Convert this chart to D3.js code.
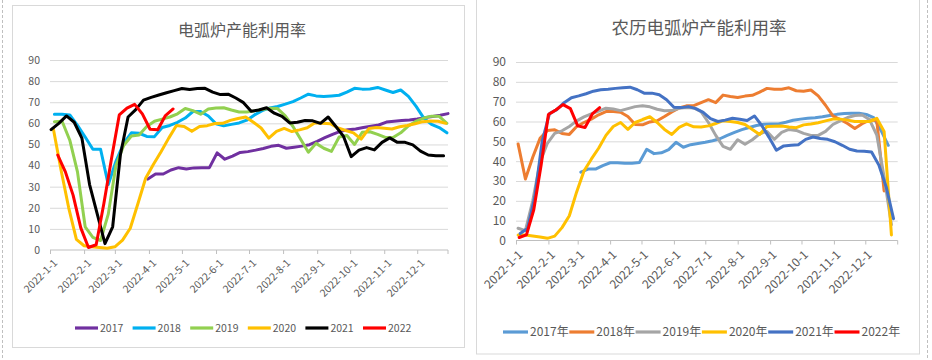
<!DOCTYPE html>
<html><head><meta charset="utf-8">
<script src="https://cdn.jsdelivr.net/npm/d3@7"></script>
<style>body{margin:0;background:#fff}svg{display:block}</style>
</head><body><svg id="c" width="932" height="360"></svg>
<script>
// ---------- data ----------
const yTicks = [0, 10, 20, 30, 40, 50, 60, 70, 80, 90];
const monthTicks = ["2022-1-1","2022-2-1","2022-3-1","2022-4-1","2022-5-1","2022-6-1","2022-7-1","2022-8-1","2022-9-1","2022-10-1","2022-11-1","2022-12-1"];

const leftTitle = "电弧炉产能利用率";
const rightTitle = "农历电弧炉产能利用率";
const leftNames = ["2017","2018","2019","2020","2021","2022"];
const rightNames = ["2017年","2018年","2019年","2020年","2021年","2022年"];
const leftColors = ["#7030A0","#00B0F0","#92D050","#FFC000","#000000","#FF0000"];
const rightColors = ["#5B9BD5","#ED7D31","#A5A5A5","#FFC000","#4472C4","#FF0000"];

// weekly series: first week date, then weekly values
const leftStarts = ["2022-3-31","2022-1-5","2022-1-5","2022-1-4","2022-1-2","2022-1-8"];
const left2017 = [33.6,36,36,37.9,39,38.4,38.9,39,39,46,43,44.5,46.2,46.6,47.3,48.1,49.1,49.6,48.2,48.7,49.2,49.9,51.5,53.2,54.8,56.2,57,57.3,58,58.6,59.2,60.6,61,61.3,61.6,62.1,62.7,63.2,63.8,64.6];
const left2018 = [64.3,64.3,64,59,53.5,47.7,47.7,31,42,50.5,55.5,55.3,53.8,53.7,58,59,60.5,62.5,65.6,65.6,63.5,59.8,58.8,59.5,60.2,61.5,64,66,67.3,68,69.1,70.3,72,73.8,73,72.7,73,73.3,74.8,76.6,76.2,76.3,77,75.8,74.6,75.8,72.8,68,62.5,59.5,58,55.5];
const left2019 = [60.8,61,52,37,11,6,4.5,17,40,49.5,54,54.5,58.5,61,62,63,64.5,67,66,64.3,66.8,67.3,67.4,66.3,65.4,65.4,65.9,66.6,67.1,67,63.5,58.5,52.5,46.3,50.5,48.2,46.7,53.5,54.2,50,55.8,56,54.8,53.3,53.3,55.5,58.8,61,62.5,63.4,63.3,60];
const left2020 = [57.6,38,20,5,2,1.5,1.2,0.8,1.5,4.7,10.3,22,34,40.5,46.5,53,59,58.5,56.2,58.5,58.9,59.9,60,61.4,62.3,63,60.5,57.8,53,56.2,57.6,56.1,56.9,57.9,60.3,60,59.8,57.8,56.6,55.5,52.5,57.5,58,57.7,57.3,58.4,59,59.8,60.8,61.1,61,60];
const left2021 = [57,60,63.5,60.5,53,31,17,3,11,45,63,66.5,71,72.3,73.4,74.5,75.5,76.5,76,76.5,76.6,74.8,73.6,73.8,72,69.8,65.7,66.3,67.4,64.8,63.3,60.2,60.5,61.3,61.2,60,63,58.5,53.8,44.2,47.3,48.5,47.4,51,53.1,51,51,49.8,46.8,45,44.7,44.7];
const left2022 = [45,37,26,10.5,1.2,2.5,22,43.5,64,67.2,69,64.5,57.2,57,63.7,66.8];

const rightStarts = ["2022-3-4","2022-1-3","2022-1-3","2022-1-3","2022-1-5","2022-1-4"];
const right2017 = [34.5,36,36,37.8,39.2,39.2,38.9,39,39.3,46,43.8,44.2,45.8,49.5,47,48.3,48.9,49.5,50.3,51.3,53,54.5,55.9,57,58,58.6,58.8,58.8,59.6,60.6,61.2,61.6,61.9,62.4,63,63.6,64,64.2,64.2,63.6,62,55.5,48];
const right2018 = [48.7,31,42,51.5,55.5,55.8,54,53.5,57.5,59.5,61.2,63.4,65,65,64.7,62.5,58.5,58.3,59.8,60.4,62.5,64.8,66.8,67.9,68,69.5,71,69.5,73.3,72.6,72.1,72.8,73.2,74.8,76.7,76.3,76.3,77,75.5,75.3,75.9,72.9,68.2,62.8,61,59,56.5,58.9,60.7,60.5,25];
const right2019 = [6.2,5,20,39.5,49,54,55.3,57.5,60.3,62.3,63.8,65.2,66.7,66.3,65.5,66.5,67.5,67.9,67.4,66.2,65.4,65.5,66.7,67,66.8,65,59.5,53,47.5,46,50.8,48.5,50.8,53.8,55,51,54.5,56,55.5,54,53,53,55,58.5,60.3,62,63,63.3,61,53.2,32,8];
const right2020 = [2.8,2.8,2.3,1.8,1.1,2.2,6.5,12.5,24.5,35,41,46.5,53,57.5,59.5,56,59.5,61,62.4,59.5,56,53.5,57,58.8,57.3,57.2,57.8,59,60.4,60,59.5,58.5,56,53.5,57.5,57.6,57.7,57.2,56.9,58.3,58.7,59.4,60.3,61.2,61.2,60.7,60,60,60,61.6,55,2.8];
const right2021 = [3.5,6,22,50,64,66,69.5,72,72.9,74,75.3,76,76.3,76.7,77,77.3,76,74.2,74.3,73.5,71,67.2,67,67.5,66.5,64.6,61.5,60,60.7,61.6,61.1,60.5,62.8,58,52,45.5,47.7,48,48.3,51,52.2,51.4,51,49.8,48,46,45.1,45,44.6,38,27,11];
const right2022 = [1.5,2.8,15.5,38,63.5,65.8,68.5,66.5,57.8,57,63.8,67];

const leftSeries = [left2017,left2018,left2019,left2020,left2021,left2022];
const rightSeries = [right2017,right2018,right2019,right2020,right2021,right2022];

// ---------- drawing ----------
const FONT = "'Noto Sans CJK SC','Noto Sans',sans-serif";
const TXT = "#595959";
const GRID = "#d9d9d9";
const svg = d3.select("#c");
svg.append("rect").attr("width",932).attr("height",360).attr("fill","#fff");

const parseD = s => { const [y,m,d] = s.split("-").map(Number); return new Date(y, m-1, d); };

// outer dashed frame marks
svg.append("line").attr("x1",2.5).attr("x2",2.5).attr("y1",0).attr("y2",360)
  .attr("stroke","#bfbfbf").attr("stroke-dasharray","3,2");
svg.append("line").attr("x1",927.5).attr("x2",927.5).attr("y1",0).attr("y2",360)
  .attr("stroke","#bfbfbf").attr("stroke-dasharray","3,2");

// panel frames
svg.append("rect").attr("x",12.5).attr("y",5.5).attr("width",452).attr("height",342)
  .attr("fill","#fff").attr("stroke",GRID);
svg.append("rect").attr("x",476.5).attr("y",-2).attr("width",443).attr("height",356)
  .attr("fill","#fff").attr("stroke",GRID);

function panel(cfg) {
  const g = svg.append("g");
  const x = d3.scaleTime().domain(cfg.xDomain).range(cfg.xRange);
  const y = d3.scaleLinear().domain([0,90]).range(cfg.yRange);

  // gridlines
  const grid = g.append("g").attr("transform",`translate(${cfg.xRange[0]},0)`)
    .call(d3.axisLeft(y).tickValues(yTicks.filter(v=>v>0)).tickSize(-(cfg.xRange[1]-cfg.xRange[0])).tickFormat(""));
  grid.select(".domain").remove();
  grid.selectAll("line").attr("stroke",GRID).attr("stroke-width",1);

  // y labels
  const ya = g.append("g").attr("transform",`translate(${cfg.xRange[0]},0)`)
    .call(d3.axisLeft(y).tickValues(yTicks).tickSize(0).tickPadding(cfg.yPad));
  ya.select(".domain").remove();
  ya.selectAll("text").attr("fill",TXT).style("font-family",FONT).style("font-size",cfg.tickFont+"px");

  // x axis
  const xa = g.append("g").attr("transform",`translate(0,${cfg.yRange[0]})`)
    .call(d3.axisBottom(x).tickValues(monthTicks.map(parseD)).tickSize(4)
      .tickFormat((d,i)=>monthTicks[i]));
  xa.select(".domain").attr("stroke","#bfbfbf").attr("d",`M${cfg.xRange[0]},0H${cfg.xRange[1]}`);
  xa.selectAll("line").attr("stroke","#bfbfbf");
  xa.append("line").attr("x1",cfg.xRange[1]).attr("x2",cfg.xRange[1]).attr("y1",0).attr("y2",4).attr("stroke","#bfbfbf");
  xa.selectAll("text")
    .attr("fill",TXT).style("font-family",FONT).style("font-size",cfg.tickFont+"px")
    .attr("text-anchor","end").attr("x",0).attr("y",0).attr("dy","0.35em")
    .attr("transform",`translate(${cfg.xLabOff[0]},${cfg.xLabOff[1]}) rotate(-45)`);

  // lines
  const line = d3.line().x(d=>x(d.date)).y(d=>y(d.v)).curve(d3.curveLinear);
  cfg.series.forEach((vals,k)=>{
    const start = parseD(cfg.starts[k]);
    const data = vals.map((v,i)=>({date: d3.timeDay.offset(start, 7*i), v}));
    g.append("path").datum(data).attr("d",line).attr("fill","none")
      .attr("stroke",cfg.colors[k]).attr("stroke-width",cfg.lw)
      .attr("stroke-linejoin","round").attr("stroke-linecap","round");
  });

  // title
  g.append("text").attr("x",cfg.titlePos[0]).attr("y",cfg.titlePos[1])
    .attr("text-anchor","middle").attr("fill",TXT).style("font-family",FONT)
    .style("font-size",cfg.titleFont+"px").text(cfg.title);

  // legend
  cfg.names.forEach((n,k)=>{
    const lx = cfg.legX + k*cfg.legStep;
    g.append("line").attr("x1",lx).attr("x2",lx+cfg.legLine).attr("y1",cfg.legY).attr("y2",cfg.legY)
      .attr("stroke",cfg.colors[k]).attr("stroke-width",3.2);
    g.append("text").attr("x",lx+cfg.legLine+2).attr("y",cfg.legY).attr("dy","0.35em")
      .attr("fill",TXT).style("font-family",FONT).style("font-size",cfg.legFont+"px").text(n);
  });
}

panel({
  xDomain:[new Date(2022,0,1), new Date(2022,11,29)], xRange:[50,448], yRange:[250,60],
  series:leftSeries, starts:leftStarts, colors:leftColors, names:leftNames,
  title:leftTitle, titlePos:[242,36], titleFont:16, tickFont:10.5, yPad:10, xLabOff:[5,11],
  lw:3, legX:75, legStep:57.6, legY:328, legLine:23, legFont:10.5
});
panel({
  xDomain:[new Date(2022,0,1), new Date(2023,0,1)], xRange:[516,897.7], yRange:[240.5,62],
  series:rightSeries, starts:rightStarts, colors:rightColors, names:rightNames,
  title:rightTitle, titlePos:[699,34], titleFont:17.5, tickFont:12, yPad:10, xLabOff:[4,12],
  lw:3, legX:503, legStep:66.3, legY:332, legLine:25, legFont:12
});
</script></body></html>
